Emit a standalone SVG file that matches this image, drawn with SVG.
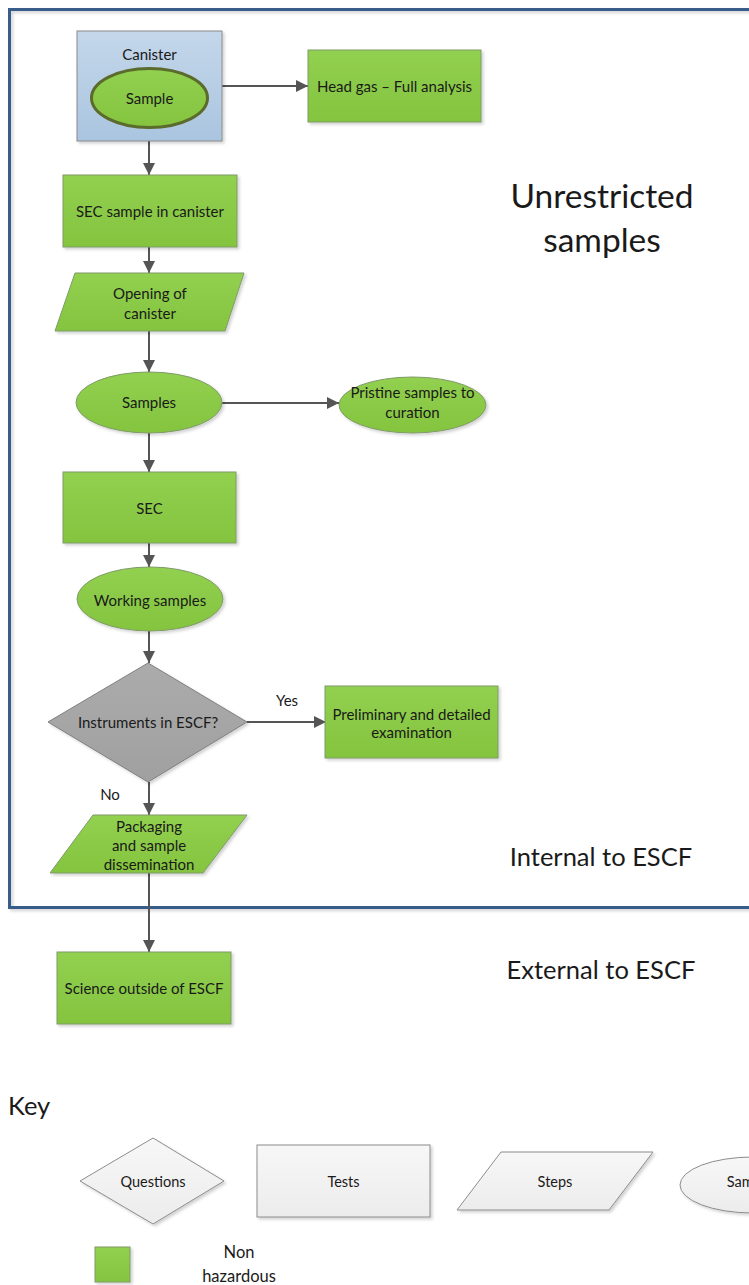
<svg xmlns="http://www.w3.org/2000/svg" width="749" height="1285" viewBox="0 0 749 1285">
<style>
text{font-family:Lato,"Open Sans","Liberation Sans",sans-serif;fill:#1a1a1a;text-anchor:middle;dominant-baseline:central}
.t{font-size:15px}
.kt{font-size:14.5px}
.big{font-size:33.5px}
.mid{font-size:25.5px}
.g{fill:url(#gg);stroke:#7f9a68;stroke-width:1;filter:url(#sh)}
.k{fill:url(#kg);stroke:#8c8c8c;stroke-width:1;filter:url(#sh)}
.c{stroke:#555;stroke-width:2;fill:none;marker-end:url(#ah)}
</style>
<defs>
<linearGradient id="gg" x1="0" y1="0" x2="0" y2="1"><stop offset="0" stop-color="#92d050"/><stop offset="1" stop-color="#84c43e"/></linearGradient>
<linearGradient id="bg" x1="0" y1="0" x2="0" y2="1"><stop offset="0" stop-color="#c4d7ea"/><stop offset="1" stop-color="#aac5e0"/></linearGradient>
<linearGradient id="kg" x1="0" y1="0" x2="0" y2="1"><stop offset="0" stop-color="#f7f7f7"/><stop offset="1" stop-color="#ececec"/></linearGradient>
<linearGradient id="dg" x1="0" y1="0" x2="0" y2="1"><stop offset="0" stop-color="#ababab"/><stop offset="1" stop-color="#a0a0a0"/></linearGradient>
<filter id="sh" x="-10%" y="-10%" width="125%" height="130%"><feDropShadow dx="2" dy="2" stdDeviation="1.5" flood-color="#000" flood-opacity="0.18"/></filter>
<marker id="ah" viewBox="0 0 12 12" refX="12" refY="6" markerWidth="12" markerHeight="12" markerUnits="userSpaceOnUse" orient="auto"><path d="M0,0 L12,6 L0,12 z" fill="#555"/></marker>
</defs>
<rect id="frame" x="9.5" y="9.5" width="746" height="898" fill="none" stroke="#385d8a" stroke-width="3" filter="url(#sh)"/>
<g id="connectors">
<path class="c" d="M222,86 H308"/>
<path class="c" d="M149,141 V175"/>
<path class="c" d="M149,247 V273"/>
<path class="c" d="M149,331 V372"/>
<path class="c" d="M222,403 H339"/>
<path class="c" d="M149,433 V472"/>
<path class="c" d="M149,543 V567"/>
<path class="c" d="M149,631 V663"/>
<path class="c" d="M247,722 H326"/>
<path class="c" d="M149,782 V815"/>
<path class="c" d="M149,873 V952"/>
<text class="t" x="287" y="700">Yes</text>
<text class="t" x="110" y="794">No</text>
</g>
<g id="canister">
<rect x="77" y="31" width="145" height="110" fill="url(#bg)" stroke="#8a8a8a" stroke-width="1" filter="url(#sh)"/>
<text class="t" x="149.5" y="54">Canister</text>
<ellipse cx="149.5" cy="98" rx="58" ry="29.5" fill="url(#gg)" stroke="#5b6b2b" stroke-width="3"/>
<text class="t" x="149.5" y="98">Sample</text>
</g>
<g id="headgas"><rect class="g" x="308" y="50" width="173" height="72"/><text class="t" x="394.5" y="86">Head gas – Full analysis</text></g>
<g id="sec-canister"><rect class="g" x="63" y="175" width="174" height="72"/><text class="t" x="150" y="211">SEC sample in canister</text></g>
<g id="opening"><polygon class="g" points="75,273 244,273 225,331 55,331"/><text class="t" x="150" y="293">Opening of</text><text class="t" x="150" y="313">canister</text></g>
<g id="samples"><ellipse class="g" cx="149" cy="402.5" rx="73" ry="30.5"/><text class="t" x="149" y="402">Samples</text></g>
<g id="pristine"><ellipse class="g" cx="412.5" cy="405" rx="73.5" ry="28"/><text class="t" x="412.5" y="392">Pristine samples to</text><text class="t" x="412.5" y="412">curation</text></g>
<g id="sec"><rect class="g" x="63" y="472" width="173" height="71"/><text class="t" x="149.5" y="508">SEC</text></g>
<g id="working"><ellipse class="g" cx="150" cy="599" rx="73" ry="32"/><text class="t" x="150" y="600">Working samples</text></g>
<g id="instruments"><polygon points="148,663 247,722 148,782 48,722" fill="url(#dg)" stroke="#7f7f7f" stroke-width="1" filter="url(#sh)"/><text class="t" x="148" y="722">Instruments in ESCF?</text></g>
<g id="preliminary"><rect class="g" x="325" y="686" width="173" height="72"/><text class="t" x="411.5" y="714">Preliminary and detailed</text><text class="t" x="411.5" y="732">examination</text></g>
<g id="packaging"><polygon class="g" points="93,815 247,815 203,873 50,873"/><text class="t" x="149" y="826">Packaging</text><text class="t" x="149" y="845">and sample</text><text class="t" x="149" y="864">dissemination</text></g>
<g id="science"><rect class="g" x="57" y="952" width="174" height="72"/><text class="t" x="144" y="988">Science outside of ESCF</text></g>
<g id="labels">
<text class="big" x="602" y="195">Unrestricted</text>
<text class="big" x="602" y="239">samples</text>
<text class="mid" x="601" y="856">Internal to ESCF</text>
<text class="mid" x="601" y="969">External to ESCF</text>
</g>
<g id="key">
<text class="mid" x="8" y="1105" style="text-anchor:start">Key</text>
<g id="key-questions"><polygon class="k" points="153,1138 224,1181 153,1224 80,1181"/><text class="kt" x="153" y="1181">Questions</text></g>
<g id="key-tests"><rect class="k" x="257" y="1145" width="173" height="72"/><text class="kt" x="343.5" y="1181">Tests</text></g>
<g id="key-steps"><polygon class="k" points="501,1152 653,1152 609,1210 457,1210"/><text class="kt" x="555" y="1181">Steps</text></g>
<g id="key-samples"><ellipse class="k" cx="753" cy="1185" rx="73" ry="28"/><text class="kt" x="753" y="1181">Samples</text></g>
<g id="key-nonhaz"><rect class="g" x="95" y="1247" width="35" height="35"/><text style="font-size:16.5px" x="239" y="1252">Non</text><text style="font-size:16.5px" x="239" y="1276">hazardous</text></g>
</g>
</svg>
